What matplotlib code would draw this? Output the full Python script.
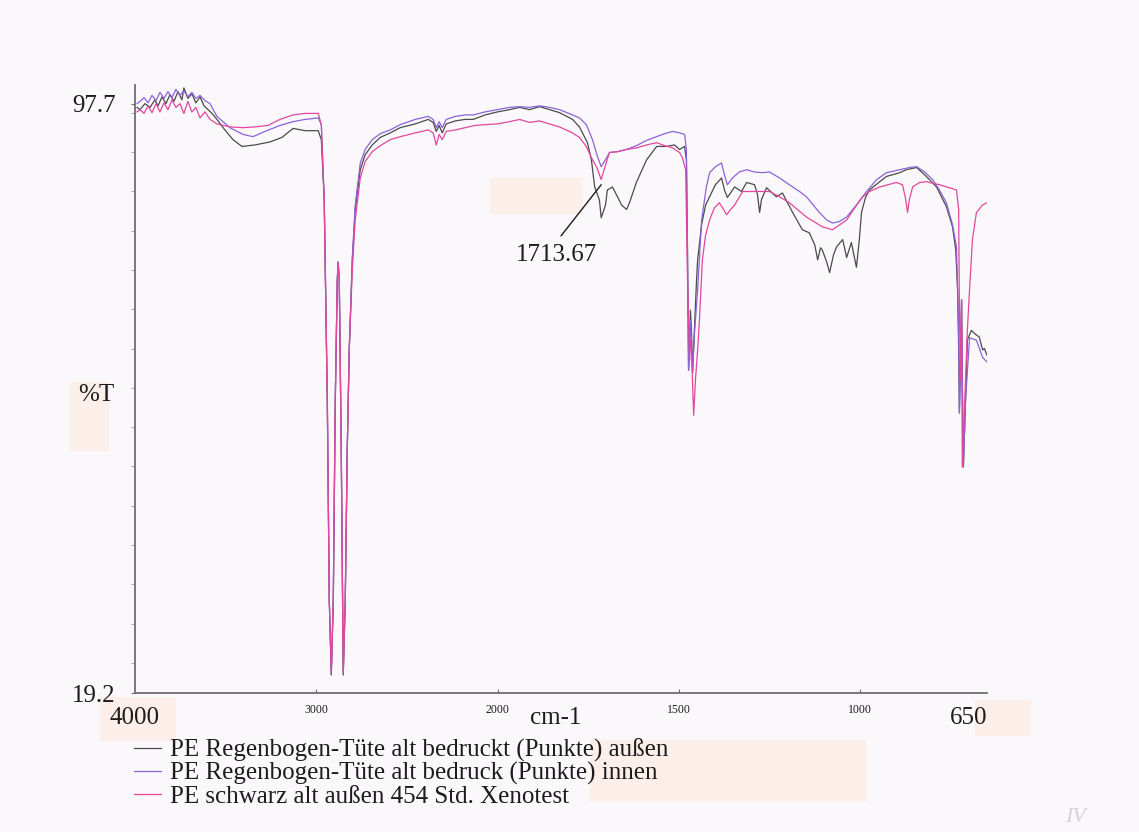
import numpy as np
import matplotlib
matplotlib.use("Agg")
import matplotlib.pyplot as plt
from matplotlib.patches import Rectangle
from matplotlib.transforms import blended_transform_factory

# IR spectra (wavenumber cm-1, %T)
wn_outer = [3989, 3972, 3945, 3917, 3890, 3873, 3851, 3829, 3807, 3785, 3763, 3741, 3730, 3708,
            3686, 3664, 3641, 3619, 3597, 3575, 3548, 3504, 3459, 3410, 3338, 3255, 3189, 3128,
            3062, 2989, 2972, 2956, 2939, 2928, 2917, 2906, 2895, 2884, 2879, 2873, 2862, 2851,
            2840, 2829, 2818, 2801, 2785, 2757, 2730, 2691, 2647, 2592, 2537, 2454, 2382, 2355,
            2338, 2322, 2305, 2283, 2233, 2178, 2134, 2068, 2000, 1967, 1939, 1912, 1884, 1857,
            1829, 1793, 1774, 1752, 1741, 1732, 1719, 1714, 1702, 1697, 1683, 1669, 1658, 1644,
            1636, 1617, 1589, 1561, 1534, 1512, 1498, 1484, 1479, 1476, 1473, 1470, 1468, 1465,
            1462, 1457, 1451, 1448, 1437, 1426, 1415, 1399, 1382, 1374, 1366, 1346, 1327, 1313,
            1291, 1283, 1277, 1272, 1258, 1231, 1214, 1186, 1159, 1140, 1125, 1117, 1109, 1104,
            1092, 1084, 1073, 1065, 1048, 1037, 1024, 1010, 1002, 996, 985, 974, 946, 927, 891,
            872, 844, 817, 789, 762, 745, 736, 731, 728, 726, 723, 720, 718, 715, 709, 704, 693,
            682, 671, 662, 657, 650]
t_outer = [97.2, 96.9, 97.7, 97.2, 98.2, 97.4, 98.6, 97.7, 98.9, 98.0, 99.3, 98.2, 99.8, 98.4,
           99.0, 97.8, 98.6, 97.4, 96.9, 96.4, 95.6, 94.2, 92.9, 92.0, 92.2, 92.6, 93.2, 94.4,
           94.1, 94.1, 92.9, 84.9, 58.2, 31.5, 21.6, 31.5, 58.2, 74.2, 76.6, 74.2, 51.5, 21.6,
           31.5, 51.5, 64.9, 76.9, 83.6, 88.9, 90.9, 92.2, 93.2, 93.8, 94.5, 95.0, 95.6, 95.2,
           94.0, 94.8, 93.8, 95.0, 95.4, 95.6, 95.6, 96.2, 96.6, 96.9, 97.2, 96.9, 97.3, 96.9,
           96.5, 95.6, 94.6, 92.5, 90.2, 86.6, 84.9, 82.5, 84.2, 86.2, 86.6, 85.3, 84.2, 83.6,
           84.5, 87.2, 90.2, 92.0, 92.0, 92.2, 91.6, 92.0, 90.2, 78.2, 62.2, 66.2, 70.2, 67.5,
           61.9, 67.5, 74.2, 76.9, 81.6, 84.2, 85.3, 86.9, 87.8, 86.2, 85.2, 86.6, 86.0, 87.2,
           86.9, 85.6, 83.2, 84.9, 86.5, 85.3, 85.8, 83.2, 80.9, 80.5, 78.9, 76.9, 78.5, 78.2,
           76.6, 75.2, 77.6, 78.6, 79.6, 77.2, 79.2, 75.9, 79.6, 83.2, 85.2, 86.2, 87.3, 88.0, 88.5,
           88.9, 89.2, 88.0, 86.6, 84.0, 81.3, 78.2, 72.9, 64.9, 56.5, 63.3, 71.6, 60.9, 49.3,
           58.2, 66.2, 67.5, 67.0, 66.6, 64.9, 65.1, 64.2]

wn_inner = [3989, 3972, 3950, 3928, 3906, 3884, 3862, 3840, 3818, 3796, 3774, 3752, 3730, 3708,
            3686, 3664, 3641, 3614, 3586, 3548, 3476, 3404, 3349, 3283, 3200, 3128, 3062, 2989,
            2972, 2956, 2939, 2928, 2917, 2906, 2895, 2884, 2879, 2873, 2862, 2851, 2840, 2829,
            2818, 2801, 2785, 2757, 2730, 2691, 2647, 2592, 2537, 2454, 2382, 2355, 2338, 2322,
            2305, 2283, 2233, 2178, 2134, 2068, 2000, 1967, 1939, 1912, 1884, 1857, 1829, 1793,
            1774, 1755, 1738, 1724, 1714, 1699, 1691, 1669, 1644, 1617, 1589, 1561, 1539, 1517,
            1498, 1484, 1479, 1476, 1473, 1470, 1468, 1465, 1462, 1457, 1448, 1437, 1424, 1415,
            1399, 1382, 1374, 1366, 1352, 1333, 1313, 1291, 1269, 1250, 1222, 1195, 1167, 1148,
            1112, 1092, 1076, 1057, 1037, 1010, 982, 954, 927, 891, 863, 844, 822, 800, 781, 762,
            745, 734, 728, 726, 723, 720, 718, 715, 709, 698, 679, 662, 650]
t_inner = [97.7, 98.0, 98.5, 97.8, 98.8, 98.1, 99.2, 98.4, 99.3, 98.5, 99.6, 98.8, 99.4, 98.6,
           99.2, 98.4, 98.8, 98.1, 97.7, 96.0, 94.5, 93.6, 93.3, 94.0, 94.8, 95.3, 95.6, 95.8,
           94.9, 84.9, 58.2, 31.5, 21.9, 31.5, 58.2, 74.2, 76.6, 74.2, 51.5, 21.9, 31.5, 51.5,
           64.9, 77.2, 84.2, 89.8, 91.6, 92.9, 93.7, 94.2, 94.9, 95.6, 96.0, 95.6, 94.5, 95.3,
           94.5, 95.6, 96.0, 96.2, 96.2, 96.6, 96.9, 97.2, 97.3, 97.2, 97.4, 97.2, 96.9, 96.2,
           95.8, 94.9, 92.9, 90.6, 89.3, 90.5, 91.2, 91.3, 91.6, 92.1, 92.8, 93.3, 93.7, 94.0,
           93.8, 93.6, 91.6, 78.2, 62.2, 65.5, 68.9, 66.2, 61.9, 66.9, 72.9, 82.2, 86.6, 88.5,
           89.3, 89.8, 88.2, 86.9, 87.8, 88.6, 88.9, 88.6, 88.5, 88.6, 87.8, 86.9, 86.0, 85.3,
           83.2, 82.2, 81.8, 82.0, 82.6, 84.2, 86.0, 87.6, 88.5, 88.9, 89.2, 89.3, 88.6, 87.6,
           86.2, 84.5, 81.6, 78.6, 67.5, 56.5, 63.3, 71.6, 60.9, 49.3, 58.2, 66.5, 66.2, 63.9, 63.3]

wn_xeno = [3989, 3972, 3950, 3928, 3906, 3884, 3862, 3840, 3818, 3796, 3774, 3752, 3730, 3708,
           3686, 3664, 3641, 3614, 3586, 3548, 3476, 3404, 3338, 3266, 3200, 3128, 3062, 2989,
           2972, 2956, 2939, 2928, 2917, 2906, 2895, 2884, 2879, 2873, 2862, 2851, 2840, 2829,
           2818, 2801, 2785, 2757, 2730, 2691, 2647, 2592, 2537, 2454, 2382, 2355, 2338, 2322,
           2305, 2283, 2233, 2178, 2123, 2068, 2000, 1967, 1939, 1912, 1884, 1857, 1829, 1793,
           1774, 1755, 1741, 1727, 1714, 1699, 1691, 1669, 1644, 1617, 1589, 1561, 1539, 1517,
           1498, 1490, 1481, 1476, 1470, 1468, 1465, 1459, 1454, 1448, 1443, 1435, 1426, 1415,
           1402, 1388, 1379, 1368, 1357, 1346, 1324, 1286, 1250, 1222, 1195, 1148, 1104, 1076,
           1037, 1015, 993, 974, 946, 900, 883, 875, 869, 864, 855, 836, 817, 781, 754, 734, 728,
           726, 723, 720, 718, 709, 704, 698, 690, 679, 662, 650]
t_xeno = [96.6, 96.9, 96.4, 97.4, 96.5, 97.7, 96.6, 97.8, 96.9, 98.2, 97.2, 97.7, 96.4, 98.0,
          96.6, 97.2, 95.8, 96.6, 95.6, 95.0, 94.6, 94.5, 94.6, 94.8, 95.6, 96.2, 96.4, 96.4,
          94.9, 84.9, 58.2, 31.5, 21.9, 31.5, 58.2, 74.2, 76.6, 74.2, 51.5, 21.9, 31.5, 51.5,
          64.9, 75.6, 82.2, 87.8, 90.0, 91.3, 92.1, 92.9, 93.3, 93.8, 94.2, 93.8, 92.2, 93.6,
          92.9, 94.0, 94.2, 94.5, 94.8, 94.9, 95.0, 95.3, 95.6, 95.2, 95.4, 95.0, 94.6, 93.8,
          93.2, 92.0, 90.5, 89.3, 87.6, 90.0, 91.2, 91.3, 91.6, 91.8, 92.2, 92.5, 92.1, 91.8,
          91.2, 90.5, 88.9, 74.2, 63.5, 66.2, 64.9, 56.2, 60.9, 64.9, 68.9, 76.9, 80.2, 82.2,
          83.8, 84.5, 83.8, 82.9, 83.6, 84.2, 86.0, 86.0, 86.0, 85.3, 84.5, 82.6, 81.3, 80.9,
          82.2, 83.8, 85.3, 86.0, 86.6, 87.2, 86.9, 85.2, 83.2, 84.9, 86.6, 87.2, 87.3, 86.9,
          86.5, 86.2, 83.6, 70.6, 60.9, 71.6, 49.3, 60.9, 67.5, 72.9, 79.6, 83.2, 84.2, 84.5]

labels = ["PE Regenbogen-Tüte alt bedruckt (Punkte) außen",
          "PE Regenbogen-Tüte alt bedruck (Punkte) innen",
          "PE schwarz alt außen 454 Std. Xenotest"]
colors = ["#4b4b4b", "#8c62d8", "#e2479d"]
peak_label = "1713.67"
peak_wn = 1714

PAGE = "#fbf8fb"
INK = "#1c1c1c"
plt.rcParams["font.family"] = ["Liberation Serif", "DejaVu Serif"]


def fwd(x):
    # printout doubles the scale below 2000 cm-1
    x = np.asarray(x, dtype=float)
    return np.where(x > 2000, 2000 + (x - 2000) / 2, x)


def inv(u):
    u = np.asarray(u, dtype=float)
    return np.where(u > 2000, 2000 + 2 * (u - 2000), u)


fig = plt.figure(figsize=(11.39, 8.32), dpi=100, facecolor=PAGE)

# faint tinted patches of the scan, kept behind everything
for x0, y0, w, h in [(0.430, 0.744, 0.081, 0.042), (0.0615, 0.459, 0.033, 0.082),
                     (0.856, 0.117, 0.048, 0.042), (0.518, 0.038, 0.241, 0.072),
                     (0.088, 0.110, 0.066, 0.052)]:
    fig.patches.append(Rectangle((x0, y0), w, h, transform=fig.transFigure,
                                 color="#fcefea", zorder=-10))

ax = fig.add_axes([0.1185, 0.167, 0.748, 0.731])
ax.set_zorder(1)
ax.set_facecolor("none")
ax.set_xscale("function", functions=(fwd, inv))
ax.set_xlim(4000, 650)
ax.set_ylim(19.2, 100.2)

lines = []
for wn, t, c in [(wn_outer, t_outer, colors[0]), (wn_inner, t_inner, colors[1]),
                 (wn_xeno, t_xeno, colors[2])]:
    ln, = ax.plot(wn, t, color=c, lw=0.9)
    lines.append(ln)

for s in ("top", "right"):
    ax.spines[s].set_visible(False)
for s in ("left", "bottom"):
    ax.spines[s].set_color("#6e6e72")
    ax.spines[s].set_linewidth(1.3)

ax.set_yticks([19.2, 97.7], ["19.2", "97.7"])
ax.set_yticks(np.linspace(23.2, 96.5, 15), minor=True)
ax.tick_params(axis="y", which="major", length=3, pad=11, labelsize=18,
               color="#6e6e72", labelcolor=INK)
ax.tick_params(axis="y", which="minor", length=3, color="#9a9aa0")

ax.set_xticks([3000, 2000, 1500, 1000], ["3000", "2000", "1500", "1000"])
ax.set_xticks([], minor=True)
ax.tick_params(axis="x", which="major", direction="in", length=3, pad=8,
               labelsize=8.5, color="#6e6e72", labelcolor=INK)

tr = blended_transform_factory(ax.transData, ax.transAxes)
ax.text(4000, -0.041, "4000", transform=tr, ha="center", va="center",
        fontsize=18, color=INK, clip_on=False)
ax.text(650, -0.041, "650", transform=tr, ha="right", va="center",
        fontsize=18, color=INK, clip_on=False)
ax.text(1840, -0.041, "cm-1", transform=tr, ha="center", va="center",
        fontsize=18, color=INK, clip_on=False)
ax.text(-0.045, 58.9, "%T", transform=blended_transform_factory(ax.transAxes, ax.transData),
        ha="center", va="center", fontsize=18, color=INK, clip_on=False)

ax.annotate(peak_label, xy=(peak_wn, 86.9), xytext=(1837, 77.6),
            ha="center", va="center", fontsize=18, color=INK,
            arrowprops=dict(arrowstyle="-", color=INK, lw=1.0, patchA=None,
                            relpos=(0.48, 1.0), shrinkA=7, shrinkB=0))

fig.legend(lines, labels, loc="upper left", bbox_to_anchor=(0.1176, 0.112),
           frameon=False, fontsize=18, handlelength=1.1, handletextpad=0.36,
           labelspacing=0.0, borderpad=0, borderaxespad=0, labelcolor=INK)

fig.text(0.944, 0.017, "IV", fontsize=16, style="italic", color="#d6d2d8",
         ha="center", va="center")

fig.savefig("out.png", dpi=100, facecolor=PAGE)
